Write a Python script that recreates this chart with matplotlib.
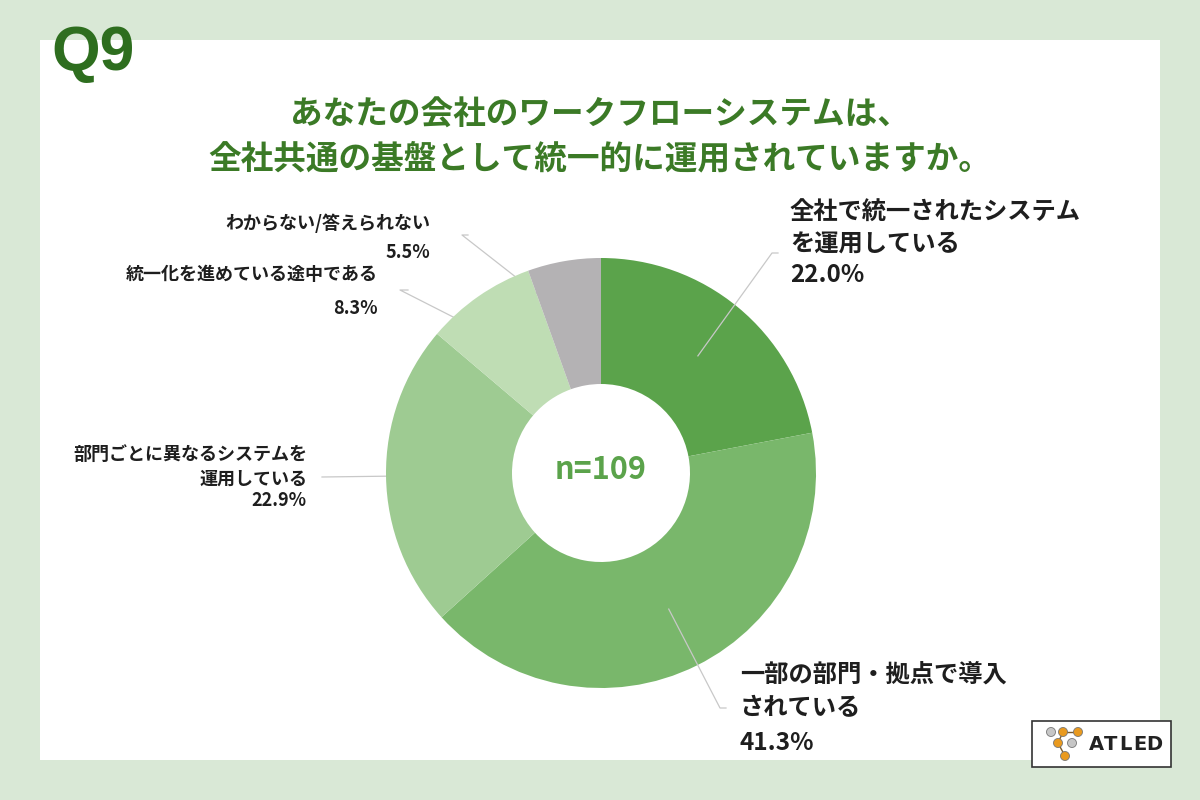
import numpy as np
import matplotlib.pyplot as plt
from matplotlib.patches import Rectangle, Circle

plt.rcParams['font.family'] = ['Noto Sans CJK JP', 'DejaVu Sans']

# data
labels = ["全社で統一されたシステム\nを運用している",
          "一部の部門・拠点で導入\nされている",
          "部門ごとに異なるシステムを\n運用している",
          "統一化を進めている途中である",
          "わからない/答えられない"]
shares = [22.0, 41.3, 22.9, 8.3, 5.5]
n_total = 109
colors = ["#5ba34b", "#79b76b", "#9ecb92", "#bfddb4", "#b4b2b4"]
title_lines = ["あなたの会社のワークフローシステムは、",
               "全社共通の基盤として統一的に運用されていますか。"]

W, H = 1200, 800
fig = plt.figure(figsize=(12, 8), dpi=100)
fig.patch.set_facecolor("#d9e8d6")
ax = fig.add_axes([0, 0, 1, 1])

def Y(y):
    return H - y

# white panel
ax.add_patch(Rectangle((40, Y(760)), 1120, 720, facecolor="white", edgecolor="none", zorder=0))

cx, cy = 601, Y(473)
r_out, r_in = 215, 89
ax.pie(shares, colors=colors, startangle=90, counterclock=False,
       center=(cx, cy), radius=r_out,
       wedgeprops=dict(width=r_out - r_in, edgecolor="none", zorder=1))

# mid angles of each wedge (clockwise from top)
cum = np.cumsum([0] + shares)
mids = (cum[:-1] + np.array(shares) / 2) / 100 * 360

def anchor(i, r=152):
    a = np.deg2rad(mids[i])
    return cx + r * np.sin(a), cy + r * np.cos(a)

# leader lines: (slice index, elbow, end, z) - left ones sit under the wedges
leaders = [(0, (772, 253), (778, 253), 5),
           (1, (720, 708), (726, 708), 5),
           (2, (322, 477), (322, 477), 0.5),
           (3, (400, 290), (408, 290), 0.5),
           (4, (462, 235), (468, 235), 0.5)]
for i, elbow, end, z in leaders:
    x0, y0 = anchor(i)
    ax.plot([x0, elbow[0], end[0]], [y0, Y(elbow[1]), Y(end[1])],
            color="#c8c8c8", lw=0.9, zorder=z)

dark = "#1e1e1e"
big = dict(fontsize=17.5, fontweight="bold", color=dark, va="center")
small = dict(fontsize=13, fontweight="bold", color=dark, va="center", ha="right")

# right side labels
ax.text(790, Y(213), "全社で統一されたシステム", ha="left", **big)
ax.text(790, Y(245), "を運用している", ha="left", **big)
ax.text(790, Y(275), f"{shares[0]:.1f}%", ha="left", **big)

ax.text(740, Y(675), "一部の部門・拠点で導入", ha="left", **big)
ax.text(740, Y(708), "されている", ha="left", **big)
ax.text(740, Y(743), f"{shares[1]:.1f}%", ha="left", **big)

# left side labels
ax.text(307, Y(454), "部門ごとに異なるシステムを", **small)
ax.text(307, Y(479), "運用している", **small)
ax.text(307, Y(500), f"{shares[2]:.1f}%", **small)

ax.text(378, Y(274), labels[3], **small)
ax.text(378, Y(308), f"{shares[3]:.1f}%", **small)

ax.text(430, Y(223), labels[4], **small)
ax.text(430, Y(252), f"{shares[4]:.1f}%", **small)

# center
ax.text(cx, cy + 3, f"n={n_total}", fontsize=22, fontweight="bold", color="#5ba34b", ha="center", va="center")

# title
ax.text(600, Y(115), title_lines[0], fontsize=23.5, fontweight="bold", color="#3b7a26", ha="center", va="center")
ax.text(600, Y(159), title_lines[1], fontsize=23.5, fontweight="bold", color="#3b7a26", ha="center", va="center")

# Q9
ax.text(51, Y(70), "Q9", fontsize=45, fontweight="bold", color="#2e6e1f", ha="left", va="baseline",
        family="Liberation Sans")

# ATLED logo
ax.add_patch(Rectangle((1032, Y(767)), 139, 46, facecolor="white", edgecolor="#333333", lw=1.2, zorder=6))
orange, grey = "#e99a1f", "#c6c6c6"
ax.plot([1063, 1078], [Y(732), Y(732)], color="#7a5a2a", lw=1, zorder=7)
ax.plot([1063, 1058, 1065], [Y(732), Y(743), Y(756)], color="#7a5a2a", lw=1, zorder=7)
for (px, py, c) in [(1051, 732, grey), (1063, 732, orange), (1078, 732, orange),
                    (1058, 743, orange), (1072, 743, grey), (1065, 756, orange)]:
    ax.add_patch(Circle((px, Y(py)), 4.5, facecolor=c, edgecolor="#777777", lw=0.6, zorder=8))
for k, ch in enumerate("ATLED"):
    ax.text(1096 + k * 14.5, Y(745), ch, fontsize=14, fontweight="bold", color="#222222",
            ha="center", va="center", family="DejaVu Sans", zorder=9)

ax.set_xlim(0, W)
ax.set_ylim(0, H)
ax.set_aspect("equal")
ax.axis("off")

fig.savefig("out.png", dpi=100, facecolor=fig.get_facecolor())
